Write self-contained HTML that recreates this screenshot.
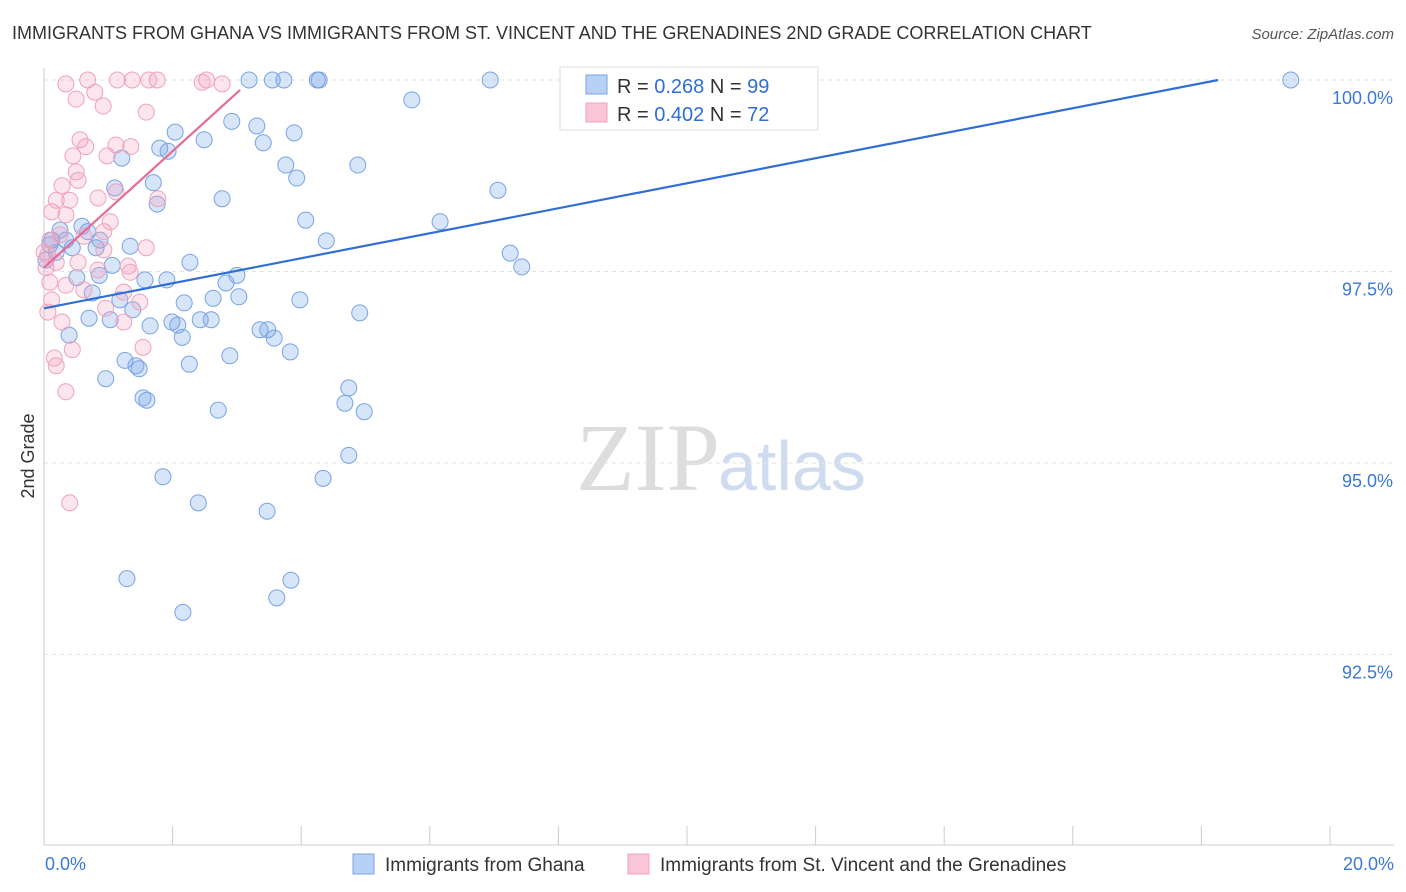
<!DOCTYPE html>
<html><head><meta charset="utf-8"><style>
body{margin:0;background:#fff;font-family:"Liberation Sans",sans-serif;}
#wrap{position:relative;width:1406px;height:892px;overflow:hidden;}
</style></head><body>
<div id="wrap">
<svg id="chart" width="1406" height="892">
<text x="12" y="39" font-size="18" fill="#333">IMMIGRANTS FROM GHANA VS IMMIGRANTS FROM ST. VINCENT AND THE GRENADINES 2ND GRADE CORRELATION CHART</text>
<text x="1394" y="39" font-size="15" fill="#555" text-anchor="end" font-style="italic">Source: ZipAtlas.com</text>
<text x="34" y="456" font-size="18" fill="#333" text-anchor="middle" transform="rotate(-90 34 456)">2nd Grade</text>
<text x="720" y="490" font-size="96" fill="#ddd" text-anchor="end" font-family="Liberation Serif,serif">ZIP</text>
<text x="718" y="490" font-size="70" fill="#cfdcf0">atlas</text>
<g id="grid"></g><g id="axes"></g><g id="pts"></g><g id="lines"></g>
<g>
<rect x="560" y="67" width="258" height="63" fill="#fff" stroke="#ddd"/>
<rect x="586" y="75" width="21" height="19" fill="#b7d0f3" stroke="#7aa4e0"/>
<rect x="586" y="103" width="21" height="19" fill="#f8c6d6" stroke="#eea4bc"/>
<text x="617" y="93" font-size="20" fill="#333">R = <tspan fill="#2f6fd3">0.268</tspan>   N = <tspan fill="#2f6fd3">99</tspan></text>
<text x="617" y="121" font-size="20" fill="#333">R = <tspan fill="#2f6fd3">0.402</tspan>   N = <tspan fill="#2f6fd3">72</tspan></text>
</g>
<g>
<rect x="353" y="854" width="21" height="20" fill="#b7d0f3" stroke="#7aa4e0"/>
<text x="385" y="871" font-size="19" fill="#333">Immigrants from Ghana</text>
<rect x="628" y="854" width="21" height="20" fill="#f8c6d6" stroke="#eea4bc"/>
<text x="660" y="871" font-size="19" fill="#333">Immigrants from St. Vincent and the Grenadines</text>
</g>
</svg>
</div>
<script>
const yTicks=[100,97.5,95,92.5];
const yTickLabels=["100.0%","97.5%","95.0%","92.5%"];
const xTicks=[0,2,4,6,8,10,12,14,16,18,20];
const blueX=[3.19,3.55,3.73,4.25,4.28,6.94,8.24,19.39,5.72,4.88,2.04,2.49,2.92,3.31,3.89,3.41,1.80,1.93,1.21,3.76,3.93,1.70,1.10,7.06,2.77,1.76,4.07,6.16,4.39,0.25,0.59,0.09,0.34,0.81,1.34,7.25,7.43,2.27,1.06,0.86,0.51,1.57,1.91,3.00,2.83,0.75,1.18,2.18,2.63,3.03,3.98,1.38,0.70,1.03,1.65,1.99,2.08,2.43,2.60,4.91,0.39,2.15,3.36,3.48,3.58,3.83,2.89,1.26,1.43,1.48,2.26,0.96,4.74,1.54,1.60,4.68,4.98,2.71,4.74,1.85,4.34,2.40,3.47,1.29,3.84,3.62,2.16,0.12,0.19,0.03,0.44,0.68,0.87];
const blueY=[100,100,100,100,100,100,100,100,99.74,98.89,99.32,99.22,99.46,99.40,99.31,99.18,99.11,99.07,98.98,98.89,98.72,98.66,98.59,98.56,98.45,98.38,98.17,98.15,97.90,98.04,98.09,97.85,97.91,97.81,97.83,97.74,97.56,97.62,97.58,97.45,97.42,97.39,97.39,97.45,97.35,97.22,97.13,97.09,97.15,97.17,97.13,97.00,96.89,96.87,96.79,96.84,96.80,96.87,96.87,96.96,96.67,96.64,96.74,96.74,96.63,96.45,96.40,96.34,96.27,96.23,96.29,96.10,95.98,95.85,95.82,95.78,95.67,95.69,95.10,94.82,94.80,94.48,94.37,93.49,93.47,93.24,93.05,97.91,97.75,97.65,97.81,98.02,97.91];
const pinkX=[0.34,0.68,1.14,1.37,1.63,1.76,2.46,2.53,2.77,0.79,0.50,1.59,0.92,0.56,0.65,1.12,1.35,0.45,0.98,0.50,0.53,0.28,1.12,0.19,0.40,0.84,1.77,0.12,0.34,1.03,0.93,0.25,0.62,1.59,0.93,0.06,0.19,0.53,1.31,0.84,1.34,0.09,0.34,0.62,1.24,0.12,1.49,0.96,0.06,0.28,1.24,1.54,0.44,0.16,0.19,0.34,0.40,0,0.09,0.03];
const pinkY=[99.95,100,100,100,100,100,99.97,100,99.95,99.84,99.75,99.58,99.66,99.22,99.13,99.15,99.13,99.01,99.01,98.80,98.69,98.62,98.54,98.43,98.43,98.46,98.45,98.28,98.24,98.15,98.02,97.98,97.96,97.81,97.78,97.72,97.62,97.62,97.57,97.52,97.49,97.36,97.32,97.26,97.23,97.13,97.10,97.02,96.97,96.84,96.84,96.51,96.48,96.37,96.27,95.93,94.48,97.75,97.91,97.55];
const blueLineX=[0,18.26];
const blueLineY=[97.02,100];
const pinkLineX=[0,3.05];
const pinkLineY=[97.55,99.87];

const NS="http://www.w3.org/2000/svg";
const sx=v=>44+v*64.3;
const sy=v=>80+(100-v)*76.6;
function mk(tag,attrs,parent){const e=document.createElementNS(NS,tag);for(const k in attrs)e.setAttribute(k,attrs[k]);document.getElementById(parent).appendChild(e);return e;}
yTicks.forEach((t,i)=>{
  const l=mk('line',{x1:44,x2:1394,y1:sy(t),y2:sy(t),stroke:'#e3e3e3','stroke-dasharray':'4,4'},'grid');
  
  
  const tx=mk('text',{x:1393,y:sy(t)+24,'font-size':18,fill:'#3b78d8','text-anchor':'end'},'axes');
  tx.textContent=yTickLabels[i];
  
  
});
const ax=mk('line',{x1:44,x2:44,y1:68,y2:845,stroke:'#ccc'},'axes');


const bx=mk('line',{x1:44,x2:1394,y1:845,y2:845,stroke:'#ccc'},'axes');


xTicks.forEach(t=>{
  const l=mk('line',{x1:sx(t),x2:sx(t),y1:826,y2:845,stroke:'#ccc'},'axes');
  
  
});
const xl0=mk('text',{x:45,y:870,'font-size':18,fill:'#3b78d8'},'axes');xl0.textContent=xTicks[0].toFixed(1)+'%';


const xl1=mk('text',{x:1394,y:870,'font-size':18,fill:'#3b78d8','text-anchor':'end'},'axes');xl1.textContent=xTicks[xTicks.length-1].toFixed(1)+'%';


blueX.forEach((v,i)=>{
  const c=mk('circle',{cx:sx(v),cy:sy(blueY[i]),r:8,fill:'rgba(110,160,235,0.28)',stroke:'#79a3e3','stroke-width':1},'pts');
  
  
});
pinkX.forEach((v,i)=>{
  const c=mk('circle',{cx:sx(v),cy:sy(pinkY[i]),r:8,fill:'rgba(245,160,190,0.28)',stroke:'#eea3bb','stroke-width':1},'pts');
  
  
});
const bl=mk('line',{x1:sx(blueLineX[0]),y1:sy(blueLineY[0]),x2:sx(blueLineX[1]),y2:sy(blueLineY[1]),stroke:'#2f6fd3','stroke-width':2.2},'lines');


const pl=mk('line',{x1:sx(pinkLineX[0]),y1:sy(pinkLineY[0]),x2:sx(pinkLineX[1]),y2:sy(pinkLineY[1]),stroke:'#e56b95','stroke-width':2.2},'lines');


</script>
</body></html>
